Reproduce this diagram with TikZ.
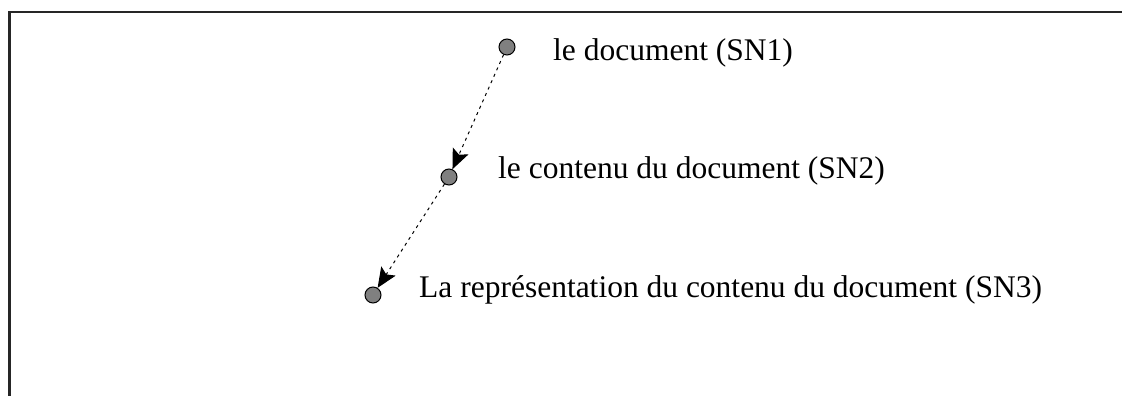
\documentclass[tikz,border=0pt]{standalone}
\usepackage{fontspec}
\setmainfont{Liberation Serif}
\usetikzlibrary{arrows.meta,positioning}

\begin{document}
\begin{tikzpicture}[
  x=1pt,y=-1pt,
  font=\fontsize{31.5}{36}\selectfont,
  dot/.style={circle,draw=black,fill=black!50,line width=1pt,minimum size=16pt,inner sep=0pt},
  label/.style={anchor=base west,inner sep=0pt},
  link/.style={-{Stealth[length=20pt,width=17pt,inset=4pt]},line width=1pt,dash pattern=on 3pt off 4pt},
  frame/.style={line width=2.5pt,draw=black!85}]
\useasboundingbox (0,0) rectangle (1122,396);
\draw[frame] (1122,12) -- (9.5,12) -- (9.5,396);
\node[dot] (doc) at (507,47) {};
\node[dot] (contenu) at (449,177) {};
\node[dot] (repr) at (373,295) {};
\node[label] (doclabel) at (553,60) {le document (SN1)};
\node[label] (contenulabel) at (498,178) {le contenu du document (SN2)};
\node[label] (reprlabel) at (419,297) {La représentation du contenu du document (SN3)};
\draw[link] (doc)--(contenu);
\draw[link] (contenu)--(repr);
\end{tikzpicture}
\end{document}
